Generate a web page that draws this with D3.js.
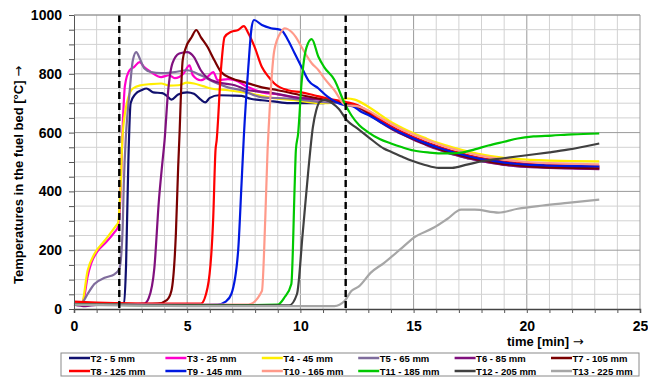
<!DOCTYPE html>
<html>
<head>
<meta charset="utf-8">
<script src="https://cdn.jsdelivr.net/npm/d3@7"></script>
<style>
  body { margin: 0; background: #fff; }
  svg { display: block; font-family: 'Liberation Sans', Arial, sans-serif; }
</style>
</head>
<body>
<div id="chart"></div>
<script>
// Fuel bed temperatures, one array of [time min, temp °C] per thermocouple
const T2  = [[0,15],[1,16],[2,15],[2.2,20],[2.3,150],[2.4,500],[2.5,700],[2.7,730],[3.0,745],[3.2,750],[3.5,737],[3.9,734],[4.1,725],[4.3,712],[4.6,730],[5.0,737],[5.3,732],[5.6,712],[5.8,703],[6.0,718],[6.4,727],[7.0,726],[7.4,725],[7.8,715],[8.3,710],[8.8,706],[9.5,700],[10.3,700],[11,700],[11.5,708],[12,700],[12.5,690],[13,668],[13.5,642],[14,620],[14.5,600],[15,582],[15.5,567],[16,553],[16.5,541],[17,530],[17.5,520],[18,512],[18.5,506],[19,500],[19.5,496],[20,492],[21,488],[22,485],[23.2,483]];
const T3  = [[0,20],[0.3,18],[0.45,40],[0.6,110],[0.75,153],[1.05,198],[1.35,222],[1.8,262],[1.95,280],[2.05,380],[2.15,620],[2.25,760],[2.45,812],[2.65,823],[2.9,840],[3.1,823],[3.4,806],[3.85,789],[4.2,795],[4.45,785],[4.85,802],[5.1,829],[5.25,795],[5.6,778],[5.9,790],[6.15,806],[6.35,778],[6.8,782],[7.1,778],[7.7,754],[8.3,737],[9,730],[9.75,720],[10.5,715],[11.2,710],[12,700],[12.5,690],[13,668],[13.5,640],[14,616],[14.5,596],[15,578],[15.5,563],[16,548],[16.5,535],[17,524],[17.5,513],[18,505],[18.5,498],[19,492],[19.5,489],[20,486],[21,482],[22,479],[23.2,477]];
const T4  = [[0,15],[0.35,20],[0.6,130],[0.9,187],[1.35,232],[1.85,283],[1.95,294],[2.05,400],[2.15,597],[2.4,720],[2.6,750],[2.95,761],[3.4,765],[3.85,767],[4.2,760],[4.6,761],[5.0,770],[5.3,767],[5.7,758],[6.05,750],[6.8,744],[7.7,734],[8.6,720],[9.75,710],[10.9,700],[11.5,702],[12.05,716],[12.4,712],[13,688],[13.5,662],[14,636],[14.5,616],[15,598],[15.5,582],[16,567],[16.5,555],[17,544],[17.5,534],[18,526],[18.5,519],[19,514],[19.5,511],[20,508],[21,505],[22,503],[23.2,502]];
const T5  = [[0,15],[0.2,18],[0.4,25],[0.6,51],[0.9,85],[1.35,106],[1.8,119],[2.0,136],[2.1,198],[2.15,277],[2.2,426],[2.3,597],[2.45,734],[2.6,846],[2.75,874],[2.9,853],[3.1,819],[3.4,806],[3.85,802],[4.45,806],[5.0,812],[5.6,795],[6.2,771],[6.8,754],[7.4,744],[8.3,720],[9.45,716],[10.9,704],[12,698],[12.5,688],[13,664],[13.5,637],[14,614],[14.5,594],[15,577],[15.5,561],[16,546],[16.5,532],[17,521],[17.5,511],[18,503],[18.5,497],[19,491],[19.5,487],[20,484],[21,481],[22,479],[23.2,478]];
const T6  = [[0,15],[0.5,10],[1,14],[2,15],[3.1,18],[3.3,37],[3.55,140],[3.75,369],[3.9,495],[4.0,573],[4.15,734],[4.35,836],[4.65,869],[5.0,874],[5.3,857],[5.6,812],[5.9,785],[6.35,771],[7.1,761],[7.7,744],[8.6,737],[9.75,720],[11.2,710],[12,699],[12.5,688],[13,665],[13.5,638],[14,614],[14.5,594],[15,576],[15.5,560],[16,545],[16.5,532],[17,521],[17.5,511],[18,503],[18.5,496],[19,490],[19.5,486],[20,483],[21,480],[22,478],[23.2,476]];
const T7  = [[0,15],[2,16],[3.7,18],[4.1,30],[4.3,61],[4.5,256],[4.6,480],[4.65,573],[4.8,846],[4.95,891],[5.2,925],[5.4,949],[5.6,925],[5.9,891],[6.2,846],[6.5,806],[6.95,785],[7.55,771],[8.3,754],[9.0,744],[10.05,727],[11.2,710],[12,699],[12.5,690],[13,667],[13.5,640],[14,616],[14.5,596],[15,578],[15.5,562],[16,548],[16.5,535],[17,524],[17.5,514],[18,506],[18.5,499],[19,493],[19.5,489],[20,486],[21,482],[22,480],[23.2,478]];
const T8  = [[0,25],[1,22],[2,20],[4,18],[5.6,18],[5.9,73],[6.15,311],[6.25,540],[6.3,573],[6.5,823],[6.65,925],[6.95,943],[7.25,949],[7.5,962],[7.7,938],[7.98,891],[8.3,823],[8.6,789],[8.85,767],[9.45,744],[10.05,737],[10.6,727],[11.2,716],[12,704],[12.5,694],[13,672],[13.5,646],[14,622],[14.5,602],[15,585],[15.5,569],[16,555],[16.5,542],[17,531],[17.5,521],[18,513],[18.5,506],[19,501],[19.5,497],[20,494],[21,490],[22,488],[23.2,486]];
const T9  = [[0,15],[2,15],[5,14],[6.35,15],[6.7,25],[6.95,51],[7.25,198],[7.4,426],[7.5,584],[7.7,823],[7.85,960],[7.95,983],[8.3,966],[8.7,955],[9.15,949],[9.45,915],[9.75,869],[10.05,823],[10.35,778],[10.8,750],[11.2,722],[11.95,693],[12.3,690],[12.7,670],[13,660],[13.5,638],[14,616],[14.5,597],[15,580],[15.5,565],[16,551],[16.5,539],[17,528],[17.5,518],[18,510],[18.5,504],[19,498],[19.5,494],[20,491],[21,488],[22,486],[23.2,485]];
const T10 = [[0,15],[2,15],[7.7,15],[8.3,61],[8.45,311],[8.55,540],[8.6,618],[8.85,881],[9.15,943],[9.3,955],[9.6,943],[9.8,925],[10.05,891],[10.5,836],[10.8,812],[11.05,785],[11.5,744],[12,693],[12.5,690],[13,675],[13.5,652],[14,630],[14.5,610],[15,593],[15.5,577],[16,563],[16.5,550],[17,539],[17.5,529],[18,521],[18.5,514],[19,508],[19.5,504],[20,500],[21,496],[22,494],[23.2,492]];
const T11 = [[0,15],[2,14],[6,12],[9.0,15],[9.3,40],[9.6,85],[9.75,427],[9.8,540],[9.9,597],[10.05,768],[10.27,890],[10.5,918],[10.8,857],[11.05,823],[11.5,780],[11.95,700],[12.25,659],[12.6,625],[13,601],[13.5,578],[14,563],[14.5,550],[15,539],[15.7,532],[16.4,529],[17.1,532],[17.7,543],[18.3,556],[19,569],[19.6,580],[20.3,587],[21.1,590],[22,594],[23.2,597]];
const T12 = [[0,15],[2,14],[6,12],[9.5,12],[9.85,51],[10.1,256],[10.35,471],[10.55,618],[10.7,676],[10.85,704],[11.1,712],[11.4,700],[11.7,680],[12.05,642],[12.5,615],[13,585],[13.7,545],[14,535],[14.5,518],[14.9,505],[15.5,490],[16.1,480],[16.7,480],[17.3,490],[18,502],[18.9,512],[20,523],[21,533],[21.8,542],[23.2,563]];
const T13 = [[0,15],[2,12],[6,10],[10,10],[11.5,10],[11.95,27],[12.25,61],[12.6,78],[13.1,123],[13.7,157],[14.5,209],[15.0,242],[15.9,277],[16.5,307],[17.1,338],[17.7,338],[18.75,328],[19.6,341],[20.7,352],[21.8,361],[23.2,372]];

const NAMES  = ['T2 - 5 mm','T3 - 25 mm','T4 - 45 mm','T5 - 65 mm','T6 - 85 mm','T7 - 105 mm',
                'T8 - 125 mm','T9 - 145 mm','T10 - 165 mm','T11 - 185 mm','T12 - 205 mm','T13 - 225 mm'];
const SERIES = [T2, T3, T4, T5, T6, T7, T8, T9, T10, T11, T12, T13];
const COLORS = ['#10106e','#ff00cc','#ffee00','#7f6c9c','#80107e','#7a0000',
                '#ff0000','#0018e0','#ff9a8a','#00c800','#404040','#a6a6a6'];
const X_TICKS = [0, 5, 10, 15, 20, 25];
const Y_TICKS = [0, 200, 400, 600, 800, 1000];
const MARKERS = [2, 12]; // dashed phase lines

const W = 648, H = 380;
const margin = { top: 15, right: 8, bottom: 71, left: 74 };
const innerW = W - margin.left - margin.right;
const innerH = H - margin.top - margin.bottom;

const x = d3.scaleLinear().domain([0, 25]).range([0, innerW]);
const y = d3.scaleLinear().domain([0, 1000]).range([innerH, 0]);

const svg = d3.select('#chart').append('svg').attr('width', W).attr('height', H);
const g = svg.append('g').attr('transform', `translate(${margin.left},${margin.top})`);

// grid: light every 1 min / 50 °C, darker every 5 min / 200 °C
g.append('g').selectAll('line').data(d3.range(1, 25))
  .join('line')
  .attr('x1', d => x(d)).attr('x2', d => x(d)).attr('y1', 0).attr('y2', innerH)
  .attr('stroke', d => d % 5 === 0 ? '#9a9a9a' : '#d2d2d2').attr('stroke-width', 1);
g.append('g').selectAll('line').data(d3.range(50, 1001, 50))
  .join('line')
  .attr('x1', 0).attr('x2', innerW).attr('y1', d => y(d)).attr('y2', d => y(d))
  .attr('stroke', d => d % 200 === 0 ? '#9a9a9a' : '#d2d2d2').attr('stroke-width', 1);
g.append('line').attr('x1', innerW).attr('x2', innerW).attr('y1', 0).attr('y2', innerH)
  .attr('stroke', '#9a9a9a');

// curves
const line = d3.line().x(d => x(d[0])).y(d => y(d[1])).curve(d3.curveMonotoneX);
g.append('g').selectAll('path').data(SERIES)
  .join('path')
  .attr('d', line)
  .attr('fill', 'none')
  .attr('stroke', (d, i) => COLORS[i])
  .attr('stroke-width', 2.2)
  .attr('stroke-linejoin', 'round');

// dashed markers
g.append('g').selectAll('line').data(MARKERS)
  .join('line')
  .attr('x1', d => x(d)).attr('x2', d => x(d)).attr('y1', 0).attr('y2', innerH)
  .attr('stroke', '#000').attr('stroke-width', 2.4).attr('stroke-dasharray', '7,4');

// axes
g.append('g')
  .call(d3.axisLeft(y).tickValues(d3.range(0, 1001, 50)).tickSize(5)
    .tickFormat(d => Y_TICKS.includes(d) ? d : ''))
  .call(ax => ax.select('.domain').attr('stroke', '#555'))
  .call(ax => ax.selectAll('.tick line').attr('stroke', '#555'))
  .call(ax => ax.selectAll('text').attr('fill', '#000').attr('x', -12)
    .style('font-size', '14px').style('font-weight', 'bold'));

g.append('g')
  .attr('transform', `translate(0,${innerH})`)
  .call(d3.axisBottom(x).tickValues(d3.range(0, 26)).tickSize(4)
    .tickFormat(d => X_TICKS.includes(d) ? d : ''))
  .call(ax => ax.select('.domain').attr('stroke', '#444').attr('stroke-width', 1.5))
  .call(ax => ax.selectAll('.tick line').attr('stroke', '#555'))
  .call(ax => ax.selectAll('text').attr('fill', '#000').attr('y', 12)
    .style('font-size', '14px').style('font-weight', 'bold'));
g.append('line').attr('x1', 0).attr('x2', innerW).attr('y1', 0).attr('y2', 0).attr('stroke', '#9a9a9a');

// axis titles, arrow from DejaVu so it is full size
const yTitle = svg.append('text')
  .attr('transform', `translate(23,${margin.top + 160}) rotate(-90)`)
  .attr('text-anchor', 'middle')
  .style('font-size', '13px').style('font-weight', 'bold');
yTitle.append('tspan').text('Temperatures in the fuel bed [°C] ');
yTitle.append('tspan').style('font-family', 'DejaVu Sans').style('font-weight', 'normal').text('→');

const xTitle = svg.append('text')
  .attr('x', 507).attr('y', 346)
  .style('font-size', '13px').style('font-weight', 'bold');
xTitle.append('tspan').text('time [min] ');
xTitle.append('tspan').style('font-family', 'DejaVu Sans').style('font-weight', 'normal').text('→');

// legend, 2 rows x 6 columns
const legend = svg.append('g');
legend.append('rect').attr('x', 61).attr('y', 353).attr('width', 578).attr('height', 23)
  .attr('fill', '#fff').attr('stroke', '#8a8a8a');
NAMES.forEach((name, i) => {
  const lx = 69 + (i % 6) * 96.4;
  const ly = i < 6 ? 358 : 371;
  legend.append('line').attr('x1', lx).attr('x2', lx + 21).attr('y1', ly).attr('y2', ly)
    .attr('stroke', COLORS[i]).attr('stroke-width', 2.5);
  legend.append('text').attr('x', lx + 21.5).attr('y', ly + 3.5)
    .style('font-size', '9.5px').style('font-weight', 'bold').text(name);
});
</script>
</body>
</html>
